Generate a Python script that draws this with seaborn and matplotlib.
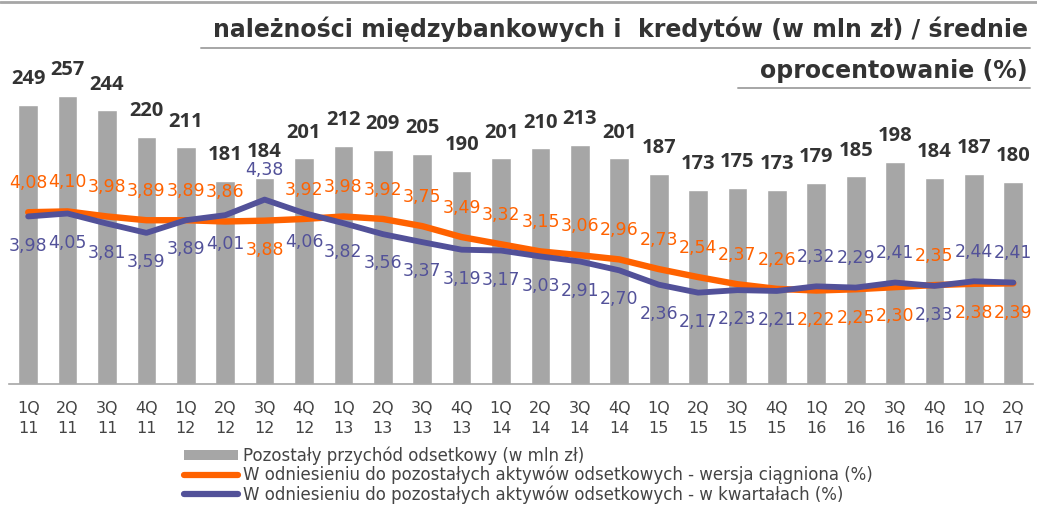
import matplotlib
matplotlib.use("Agg")
import matplotlib.pyplot as plt
import seaborn as sns
import pandas as pd
import numpy as np
from matplotlib.patches import Patch
from matplotlib.lines import Line2D

# Quarter labels
quarters = ["1Q\n11", "2Q\n11", "3Q\n11", "4Q\n11", "1Q\n12", "2Q\n12", "3Q\n12", "4Q\n12",
            "1Q\n13", "2Q\n13", "3Q\n13", "4Q\n13", "1Q\n14", "2Q\n14", "3Q\n14", "4Q\n14",
            "1Q\n15", "2Q\n15", "3Q\n15", "4Q\n15", "1Q\n16", "2Q\n16", "3Q\n16", "4Q\n16",
            "1Q\n17", "2Q\n17"]

# Other interest income (PLN m)
income = [249, 257, 244, 220, 211, 181, 184, 201, 212, 209, 205, 190, 201, 210, 213, 201,
          187, 173, 175, 173, 179, 185, 198, 184, 187, 180]

# Rolling (trailing) yield, %
rolling = [4.08, 4.10, 3.98, 3.89, 3.89, 3.86, 3.88, 3.92, 3.98, 3.92, 3.75, 3.49, 3.32, 3.15,
           3.06, 2.96, 2.73, 2.54, 2.37, 2.26, 2.22, 2.25, 2.30, 2.35, 2.38, 2.39]

# Quarterly yield, %
quarterly = [3.98, 4.05, 3.81, 3.59, 3.89, 4.01, 4.38, 4.06, 3.82, 3.56, 3.37, 3.19, 3.17, 3.03,
             2.91, 2.70, 2.36, 2.17, 2.23, 2.21, 2.32, 2.29, 2.41, 2.33, 2.44, 2.41]

title_1 = "należności międzybankowych i  kredytów (w mln zł) / średnie"
title_2 = "oprocentowanie (%)"
legend_labels = ["Pozostały przychód odsetkowy (w mln zł)",
                 "W odniesieniu do pozostałych aktywów odsetkowych - wersja ciągniona (%)",
                 "W odniesieniu do pozostałych aktywów odsetkowych - w kwartałach (%)"]

BAR = "#a6a6a6"
ORANGE = "#ff6200"
BLUE = "#525199"
TEXT = "#333333"
FONT = ["DejaVu Sans"]
NUM_FONT = ["Open Sans", "DejaVu Sans"]

# quarters where the quarterly label sits above its line (rolling label goes below)
quarterly_on_top = {6, 20, 21, 22, 24, 25}

sns.set_theme(style="white")
plt.rcParams["font.family"] = FONT

W, H = 1037, 509
fig = plt.figure(figsize=(W / 100, H / 100), dpi=100)
ax_left, ax_bottom, ax_top, ax_right = 8.5, 384, 40, 1033
ax = fig.add_axes([ax_left / W, 1 - ax_bottom / H, (ax_right - ax_left) / W, (ax_bottom - ax_top) / H])

df = pd.DataFrame({"q": quarters, "income": income, "rolling": rolling, "quarterly": quarterly,
                   "x": np.arange(len(quarters))})

sns.barplot(data=df, x="q", y="income", color=BAR, width=0.5, saturation=1, ax=ax, zorder=1)
ax.set_ylim(0, 344 / 1.122)
ax.set_xlim(-0.5, len(quarters) - 0.5)

for i, v in enumerate(income):
    ax.annotate(f"{v}", (i, v), xytext=(0, 18.5), textcoords="offset points", ha="center",
                va="center", fontsize=14.5, fontweight="bold", color=TEXT, family=NUM_FONT)

ax2 = ax.twinx()
ax2.set_position(ax.get_position())
sns.lineplot(data=df, x="x", y="rolling", color=ORANGE, linewidth=4.6, ax=ax2, zorder=2,
             solid_capstyle="round")
sns.lineplot(data=df, x="x", y="quarterly", color=BLUE, linewidth=4.2, ax=ax2, zorder=3,
             solid_capstyle="round")
ax2.set_ylim(0, 344 / 42.1)
ax2.set_xlim(-0.5, len(quarters) - 0.5)

for i, (r, q) in enumerate(zip(rolling, quarterly)):
    up_q = i in quarterly_on_top
    for v, col, up in ((r, ORANGE, not up_q), (q, BLUE, up_q)):
        dy = 21 if up else -21
        ax2.annotate(f"{v:.2f}".replace(".", ","), (i, v), xytext=(0, dy), textcoords="offset points",
                     ha="center", va="center", fontsize=12.5, color=col)

for a in (ax, ax2):
    for s in a.spines.values():
        s.set_visible(False)
    a.set_yticks([])
    a.set_ylabel("")
    a.set_xlabel("")
ax2.set_xticks([])
ax.spines["bottom"].set_visible(True)
ax.spines["bottom"].set_color("#a6a6a6")
ax.spines["bottom"].set_linewidth(1.2)
ax.set_xticks(range(len(quarters)))
ax.set_xticklabels(quarters, fontsize=11.5, color="#444444", linespacing=1.45)
ax.tick_params(axis="x", length=0, pad=12)

# title block with rules
fig.add_artist(Line2D([0, 1], [1 - 1.5 / H] * 2, color="#a6a6a6", linewidth=2, transform=fig.transFigure))
fig.text(1028 / W, 1 - 29 / H, title_1, ha="right", va="center", fontsize=17, fontweight="bold", color=TEXT)
fig.add_artist(Line2D([201 / W, 1030 / W], [1 - 47.5 / H] * 2, color="#a6a6a6", linewidth=1.4,
                      transform=fig.transFigure))
fig.text(1028 / W, 1 - 71 / H, title_2, ha="right", va="center", fontsize=17, fontweight="bold", color=TEXT)
fig.add_artist(Line2D([738 / W, 1030 / W], [1 - 88 / H] * 2, color="#a6a6a6", linewidth=1.4,
                      transform=fig.transFigure))

handles = [Patch(facecolor=BAR, edgecolor="none"),
           Line2D([], [], color=ORANGE, linewidth=4.5, solid_capstyle="round"),
           Line2D([], [], color=BLUE, linewidth=4.5, solid_capstyle="round")]
fig.legend(handles, legend_labels, loc="upper left", bbox_to_anchor=(176 / W, 1 - 438 / H),
           frameon=False, fontsize=12, handlelength=3.2, handleheight=0.6, handletextpad=0.3,
           labelspacing=0.05, borderpad=0, labelcolor="#444444")

fig.savefig("out.png", dpi=100)
